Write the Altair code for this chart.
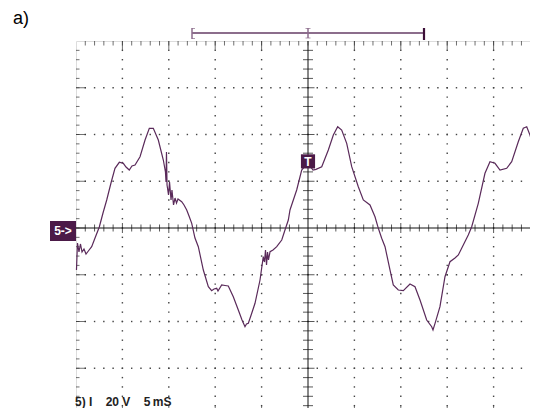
import altair as alt
import pandas as pd

# ---- waveform (time in ms, amplitude in V; 5 ms/div, 20 V/div) ----
time_ms = [-24.95, -24.84, -24.68, -24.52, -24.35, -24.14, -23.92, -23.67, -23.31, -22.95,
           -22.49, -22.09, -21.69, -21.23, -20.80, -20.33, -19.90, -19.61, -19.26, -18.97,
           -18.64, -18.10, -17.56, -17.10, -16.67, -16.13, -15.59, -15.36, -15.30, -15.25,
           -15.19, -15.03, -14.92, -14.76, -14.66, -14.49, -14.33, -14.17, -14.01, -13.61,
           -13.36, -13.07, -12.82, -12.53, -12.18, -11.82, -11.28, -10.74, -10.38, -10.13,
           -9.84, -9.70, -9.30, -8.94, -8.59, -8.05, -7.51, -7.11, -6.79, -6.63,
           -6.43, -6.09, -5.71, -5.17, -4.82, -4.69, -4.58, -4.47, -4.36, -4.26,
           -4.09, -3.77, -3.37, -2.83, -2.48, -2.12, -1.94, -1.22, -0.68, -0.32,
           0.22, 0.54, 0.86, 1.48, 2.19, 2.73, 3.20, 3.63, 4.17, 4.71,
           5.42, 5.96, 6.68, 7.22, 7.58, 7.94, 8.30, 8.84, 9.19, 9.73,
           10.27, 10.99, 11.53, 12.07, 12.79, 13.33, 13.47, 13.69, 14.22, 14.76,
           15.30, 15.84, 16.20, 16.56, 17.27, 17.64, 18.35, 19.07, 19.61, 20.15,
           20.69, 21.41, 21.95, 22.66, 23.20, 23.57, 23.92, 24.46, 24.57, 24.68, 24.78]
volts = [-17.97, -6.42, -10.27, -6.84, -10.27, -8.98, -11.12, -9.84, -8.0, -4.28,
         0.43, 6.42, 11.98, 19.25, 25.54, 28.11, 27.68, 26.10, 24.81, 26.52,
         26.95, 30.50, 37.65, 42.65, 42.65, 37.65, 29.09, 23.96, 19.68, 32.51,
         18.40, 14.12, 19.68, 11.98, 16.26, 9.84, 12.83, 10.70, 12.41, 11.25,
         9.84, 7.70, 5.13, 2.01, -4.28, -8.0, -17.97, -25.11, -26.82, -26.10,
         -25.80, -26.95, -24.38, -24.60, -24.81, -29.39, -35.08, -39.36, -42.22, -41.07,
         -40.77, -36.79, -32.21, -22.25, -12.28, -14.55, -9.41, -15.83, -10.27, -13.69,
         -10.14, -9.41, -8.0, -5.13, -0.86, 3.42, 7.70, 16.26, 24.81, 26.52,
         26.52, 24.81, 25.11, 26.22, 33.37, 39.79, 43.34, 41.92, 36.23, 26.22,
         17.67, 11.98, 9.84, 4.83, -0.13, -4.41, -8.0, -17.97, -24.38, -26.52,
         -26.82, -23.96, -25.11, -30.80, -39.36, -42.22, -43.64, -40.77, -33.67, -20.83,
         -14.42, -12.83, -11.55, -8.68, -2.99, 0.56, 10.57, 23.40, 28.36, 27.68,
         24.81, 25.54, 28.36, 36.92, 42.65, 43.34, 39.79, 31.96, 29.95, 26.95, 29.95]

# ---- screen graticule ----
t_domain = [-25, 25]
v_domain = [-80, 80]
minor_t = list(range(-25, 26, 1))
major_t = [-20, -15, -10, -5, 5, 10, 15, 20]
minor_v = list(range(-80, 81, 4))
major_v = [-60, -40, -20, 20, 40, 60]

trigger_time = [0]
trigger_level = [28.5]
bracket_start = [-12.5]
bracket_end = [12.5]
ground_level = [0]

W, H = 464, 374
PURPLE = "#5a2a5a"
DARK = "#4b1a48"
LIGHT = "#8c6d8c"
FONT = "Liberation Sans"
NB = "\u00a0"

xs = alt.Scale(domain=t_domain, nice=False, zero=False)
ys = alt.Scale(domain=v_domain, nice=False, zero=False)
X = lambda f: alt.X(f, type="quantitative", scale=xs, axis=None)
Y = lambda f: alt.Y(f, type="quantitative", scale=ys, axis=None)

wave = pd.DataFrame({"t": time_ms, "v": volts, "i": range(len(time_ms))})

dots = pd.DataFrame(
    [{"t": t, "v": v} for t in major_t for v in minor_v if v not in (-80, 80)]
    + [{"t": t, "v": v} for v in major_v for t in minor_t if t not in (-25, 25)]
)
dot_layer = alt.Chart(dots).mark_square(size=2, color="#444", opacity=1).encode(x=X("t"), y=Y("v"))

center_v = alt.Chart(pd.DataFrame({"t": trigger_time})).mark_rule(color="#111", strokeWidth=1).encode(x=X("t"))
center_h = alt.Chart(pd.DataFrame({"v": ground_level})).mark_rule(color="#111", strokeWidth=1).encode(y=Y("v"))

ht = pd.DataFrame({"t": [t for t in minor_t if t not in (-25, 0, 25)], "v": 0})
ht["major"] = ht["t"].isin(major_t)
h_ticks_minor = alt.Chart(ht[~ht.major]).mark_tick(orient="vertical", size=7, thickness=1, color="#111").encode(x=X("t"), y=Y("v"))
h_ticks_major = alt.Chart(ht[ht.major]).mark_tick(orient="vertical", size=10, thickness=1, color="#111").encode(x=X("t"), y=Y("v"))

vt = pd.DataFrame({"v": [v for v in minor_v if v not in (-80, 0, 80)], "t": 0})
vt["major"] = vt["v"].isin(major_v)
v_ticks_minor = alt.Chart(vt[~vt.major]).mark_tick(orient="horizontal", size=10, thickness=1, color="#111").encode(x=X("t"), y=Y("v"))
v_ticks_major = alt.Chart(vt[vt.major]).mark_tick(orient="horizontal", size=13, thickness=1, color="#111").encode(x=X("t"), y=Y("v"))

# border ticks
bt = pd.DataFrame({"t": [t for t in minor_t if t not in (-25, 25)]})
bt_major = pd.DataFrame({"t": major_t})
bv = pd.DataFrame({"v": [v for v in minor_v if v not in (-80, 80)]})
bv_major = pd.DataFrame({"v": major_v + [0]})
bc = "#333"
border = [
    alt.Chart(bt).mark_tick(orient="vertical", size=4.5, thickness=1, color=bc).encode(x=X("t"), y=alt.value(2.25)),
    alt.Chart(bt_major).mark_tick(orient="vertical", size=9, thickness=1, color=bc).encode(x=X("t"), y=alt.value(4.5)),
    alt.Chart(bt).mark_tick(orient="vertical", size=4.5, thickness=1, color=bc).encode(x=X("t"), y=alt.value(H - 2.25)),
    alt.Chart(bt_major).mark_tick(orient="vertical", size=9, thickness=1, color=bc).encode(x=X("t"), y=alt.value(H - 4.5)),
    alt.Chart(bv).mark_tick(orient="horizontal", size=3.5, thickness=1, color=bc).encode(y=Y("v"), x=alt.value(1.75)),
    alt.Chart(bv_major).mark_tick(orient="horizontal", size=10, thickness=1, color=bc).encode(y=Y("v"), x=alt.value(5)),
    alt.Chart(bv).mark_tick(orient="horizontal", size=3.5, thickness=1, color=bc).encode(y=Y("v"), x=alt.value(W - 1.75)),
    alt.Chart(bv_major).mark_tick(orient="horizontal", size=10, thickness=1, color=bc).encode(y=Y("v"), x=alt.value(W - 5)),
]

line = alt.Chart(wave).mark_line(color=PURPLE, strokeWidth=1.2).encode(x=X("t"), y=Y("v"), order="i:Q")

trig = pd.DataFrame({"t": trigger_time, "v": trigger_level})
t_box = alt.Chart(trig).mark_square(size=200, color=DARK, opacity=1).encode(x=X("t"), y=Y("v"))
t_txt = alt.Chart(trig).mark_text(text="T", color="white", fontSize=12, fontWeight="bold", font=FONT,
                                  align="center", baseline="middle", dy=1).encode(x=X("t"), y=Y("v"))

br = pd.DataFrame({"t": bracket_start, "t2": bracket_end})
bracket = alt.Chart(br).mark_rule(color=LIGHT, strokeWidth=2).encode(x=X("t"), x2="t2", y=alt.value(-8))
br_left = alt.Chart(pd.DataFrame({"t": bracket_start})).mark_rule(color=LIGHT, strokeWidth=1.5).encode(
    x=X("t"), y=alt.value(-13), y2=alt.value(-2))
br_left_serif = alt.Chart(pd.DataFrame({"t": bracket_start * 2, "y": [-12.5, -2.5]})).mark_tick(
    orient="horizontal", size=3, thickness=1, color=LIGHT, xOffset=1.5).encode(x=X("t"), y=alt.Y("y:Q", scale=None))
br_mid = alt.Chart(pd.DataFrame({"t": trigger_time})).mark_rule(color=LIGHT, strokeWidth=1.5).encode(
    x=X("t"), y=alt.value(-13), y2=alt.value(-3))
br_mid_serif = alt.Chart(pd.DataFrame({"t": trigger_time * 2, "y": [-12.5, -3]})).mark_tick(
    orient="horizontal", size=5, thickness=1, color=LIGHT).encode(x=X("t"), y=alt.Y("y:Q", scale=None))
br_right = alt.Chart(pd.DataFrame({"t": bracket_end})).mark_rule(color="#3d1038", strokeWidth=2.2).encode(
    x=X("t"), y=alt.value(-13), y2=alt.value(-1))

gnd = pd.DataFrame({"v": ground_level})
gnd_box = alt.Chart(gnd).mark_rect(color=DARK, yOffset=-7, y2Offset=13).encode(
    x=alt.value(-26), x2=alt.value(0), y=Y("v"), y2="v")
gnd_txt = alt.Chart(gnd).mark_text(text="5->", color="white", fontSize=12, fontWeight="bold", font=FONT,
                                   align="center", baseline="middle", dy=3).encode(x=alt.value(-13), y=Y("v"))

label_a = alt.Chart(pd.DataFrame({"s": ["a)"]})).mark_text(
    fontSize=18, font=FONT, align="left", baseline="alphabetic", color="black").encode(
    text="s:N", x=alt.value(-63), y=alt.value(-17))
bottom_str = "5)" + NB + "I" + NB * 4 + "20" + NB + "V" + NB * 4 + "5" + "\u2009" + "mS"
label_bottom = alt.Chart(pd.DataFrame({"s": [bottom_str]})).mark_text(
    fontSize=12, font=FONT, fontWeight="bold", align="left", baseline="alphabetic", color="#222").encode(
    text="s:N", x=alt.value(-1), y=alt.value(H - 9))

chart = alt.layer(
    dot_layer, center_v, center_h, h_ticks_minor, h_ticks_major, v_ticks_minor, v_ticks_major,
    *border, line, t_box, t_txt, bracket, br_left, br_left_serif, br_mid, br_mid_serif, br_right,
    gnd_box, gnd_txt, label_a, label_bottom
).properties(
    width=W, height=H,
    padding={"left": 68, "top": 33, "right": -10, "bottom": -7},
    autosize=alt.AutoSizeParams(type="none"),
).configure_view(stroke="#222", strokeWidth=1).configure(background="white")

chart.save("out.html", embed_options={"renderer": "svg", "actions": False})
